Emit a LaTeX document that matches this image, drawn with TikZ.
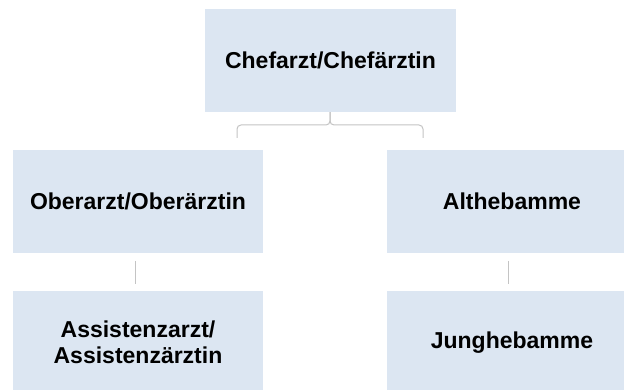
\documentclass[tikz,border=0pt]{standalone}
\usepackage{fontspec}
\setmainfont{Liberation Sans}
\definecolor{boxfill}{HTML}{DCE6F2}
\definecolor{connline}{HTML}{C4C4C4}
\begin{document}
\begin{tikzpicture}[x=1pt,y=1pt,
  orgbox/.style={fill=boxfill, draw=none, minimum width=251pt, minimum height=103pt,
    inner sep=0pt, align=center, font=\fontsize{23}{26}\selectfont\bfseries},
  conn/.style={draw=connline, line width=1pt}]
\fill[white] (0,0) rectangle (624,-390);
\useasboundingbox (0,0) rectangle (624,-390);
\clip (0,0) rectangle (624,-390);
\node[orgbox] (chef) at (330.5,-60.5) {Chefarzt/Chefärztin};
\node[orgbox, minimum width=250pt] (ober) at (138,-201.5) {Oberarzt/Oberärztin};
\node[orgbox] (alt) at (512,-201.5) {Althebamme};
\node[orgbox, minimum width=250pt] (assist) at (138,-342.5) {Assistenzarzt/\\Assistenzärztin};
\node[orgbox] (jung) at (512,-342.5) {Junghebamme};
% bracket under top box
\coordinate (jn) at (330,-125);
\coordinate (bl) at (237,-138);
\coordinate (br) at (423,-138);
\draw[conn, rounded corners=4pt] (chef.south -| jn) -- (jn) -| (bl);
\draw[conn, rounded corners=4pt] (chef.south -| jn) -- (jn) -| (br);
% vertical connectors
\coordinate (la) at (135,-261);
\coordinate (lb) at (135,-284);
\coordinate (ra) at (508,-261);
\coordinate (rb) at (508,-284);
\draw[conn] (la) -- (lb);
\draw[conn] (ra) -- (rb);
\end{tikzpicture}
\end{document}
